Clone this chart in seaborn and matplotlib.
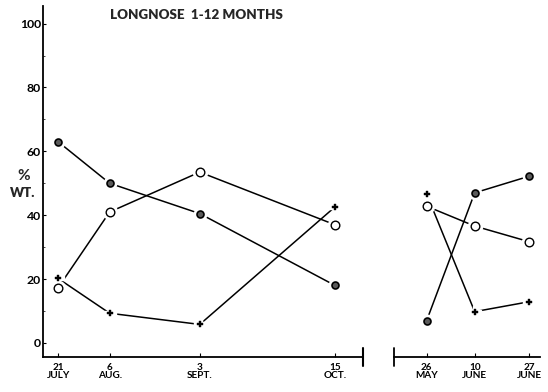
import matplotlib
matplotlib.use("Agg")
import matplotlib.pyplot as plt
import seaborn as sns
import pandas as pd
import numpy as np

# Sampling dates (month-day) for the two seasons
summer_dates = ["07-21", "08-06", "09-03", "10-15"]
spring_dates = ["05-26", "06-10", "06-27"]

summer_labels = ["21\nJULY", "6\nAUG.", "3\nSEPT.", "15\nOCT."]
spring_labels = ["26\nMAY", "10\nJUNE", "27\nJUNE"]

# Percent by weight of each food group
summer_filled = [63, 50, 40.5, 18]
summer_open = [17.3, 41, 53.5, 37]
summer_plus = [20.2, 9.3, 5.8, 42.6]

spring_filled = [7, 47, 52.2]
spring_open = [42.8, 36.6, 31.7]
spring_plus = [46.6, 9.8, 12.9]

yticks = [0, 20, 40, 60, 80, 100]


def day_of_year(md):
    return pd.to_datetime(["2001-" + d for d in md]).dayofyear.values.astype(float)


def frame(md, filled, opn, plus):
    x = day_of_year(md)
    return pd.concat([
        pd.DataFrame({"day": x, "pct": filled, "group": "filled"}),
        pd.DataFrame({"day": x, "pct": opn, "group": "open"}),
        pd.DataFrame({"day": x, "pct": plus, "group": "plus"}),
    ], ignore_index=True)


sns.set_style("white")
plt.rcParams["font.family"] = ["Lato", "DejaVu Sans"]
plt.rcParams["font.weight"] = "bold"

fig = plt.figure(figsize=(5.48, 3.92), dpi=100)
ax1 = fig.add_axes([43 / 548, 1 - 357 / 392, 320 / 548, 351 / 392])
ax2 = fig.add_axes([394 / 548, 1 - 357 / 392, 146 / 548, 351 / 392])

styles = {
    "filled": dict(marker="o", ms=5.0, mfc="#5a5a5a", mec="black", mew=1.2),
    "open": dict(marker="o", ms=6.2, mfc="white", mec="black", mew=1.0),
    "plus": dict(marker="P", ms=4.5, mfc="black", mec="black", mew=0.3),
}

ylo, yhi = -4.4, 105.5


def draw(ax, df, md, labels, xlo, xhi):
    for g in ["filled", "open", "plus"]:
        sub = df[df["group"] == g]
        sns.lineplot(data=sub, x="day", y="pct", ax=ax, color="black",
                     lw=1.1, legend=False, sort=False)
    # white halo so segments stop short of the symbols
    for g in ["filled", "open", "plus"]:
        sub = df[df["group"] == g]
        st = styles[g]
        ax.plot(sub["day"], sub["pct"], ls="none", marker=st["marker"],
                ms=st["ms"] + 4, mfc="white", mec="white", zorder=3)
        ax.plot(sub["day"], sub["pct"], ls="none", zorder=4, **st)
    x = day_of_year(md)
    ax.set_xlim(xlo, xhi)
    ax.set_ylim(ylo, yhi)
    ax.set_xticks(x)
    ax.set_xticklabels(labels, fontsize=7.2, linespacing=0.95)
    ax.set_xlabel("")
    ax.set_ylabel("")
    ax.tick_params(axis="x", direction="in", length=3, width=0.8, pad=4,
                   bottom=True, colors="black")
    for s in ["top", "right"]:
        ax.spines[s].set_visible(False)
    ax.spines["bottom"].set_linewidth(1.3)
    ax.spines["bottom"].set_color("black")


df1 = frame(summer_dates, summer_filled, summer_open, summer_plus)
df2 = frame(spring_dates, spring_filled, spring_open, spring_plus)

x1 = day_of_year(summer_dates)
x2 = day_of_year(spring_dates)
draw(ax1, df1, summer_dates, summer_labels, x1[0] - 4.7, x1[-1] + 8.7)
draw(ax2, df2, spring_dates, spring_labels, x2[0] - 10.2, x2[-1] + 3.4)

# left value axis
ax1.spines["left"].set_linewidth(1.3)
ax1.spines["left"].set_color("black")
ax1.set_yticks(yticks)
ax1.set_yticklabels([str(v) for v in yticks], fontsize=8.8)
ax1.set_yticks([10, 30, 50, 70, 90], minor=True)
ax1.tick_params(axis="y", which="major", direction="in", length=2.5,
                width=0.8, pad=1.5, left=True, colors="black")
ax1.tick_params(axis="y", which="minor", direction="in", length=1.5,
                width=0.6, left=True)

ax2.spines["left"].set_visible(False)
ax2.set_yticks([])

# end bars on the time axes
ax1.plot([1, 1], [-0.025, 0.025], transform=ax1.transAxes, color="black",
         lw=1.5, clip_on=False)
ax2.plot([0, 0], [-0.025, 0.025], transform=ax2.transAxes, color="black",
         lw=1.3, clip_on=False)

fig.text(24 / 548, 1 - 176 / 392, "%", fontsize=11, ha="center", va="center",
         fontweight="bold")
fig.text(23 / 548, 1 - 193 / 392, "WT.", fontsize=9.5, ha="center", va="center",
         fontweight="heavy")
fig.text(110 / 548, 1 - 15 / 392, "LONGNOSE  1-12 MONTHS", fontsize=9.6,
         ha="left", va="center", fontweight="heavy")

fig.savefig("out.png", dpi=100)
